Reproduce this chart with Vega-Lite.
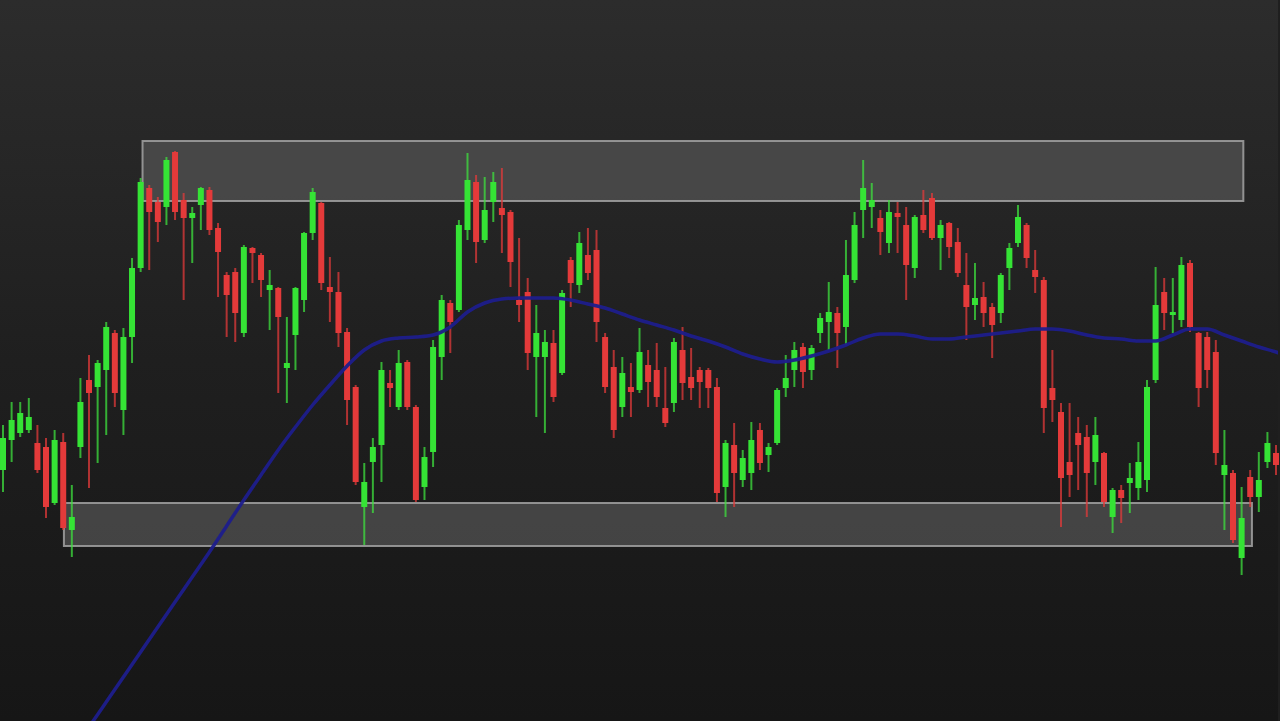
{
  "$schema": "https://vega.github.io/schema/vega-lite/v6.json",
  "width": 1280,
  "height": 721,
  "padding": 0,
  "autosize": {"type": "fit", "contains": "padding"},
  "background": "#1f1f1f",
  "view": {
    "stroke": null,
    "fill": {"gradient": "linear", "x1": 0, "y1": 0, "x2": 0, "y2": 1, "stops": [{"offset": 0, "color": "#2c2c2c"}, {"offset": 0.5, "color": "#1f1f1f"}, {"offset": 1, "color": "#161616"}]}
  },
  "datasets": {
    "candles": [
      {"t":0,"o":330,"c":362,"h":375,"l":308},
      {"t":1,"o":360,"c":380,"h":398,"l":338},
      {"t":2,"o":367,"c":387,"h":398,"l":363},
      {"t":3,"o":370,"c":383,"h":402,"l":367},
      {"t":4,"o":357,"c":330,"h":375,"l":327},
      {"t":5,"o":353,"c":293,"h":362,"l":282},
      {"t":6,"o":297,"c":360,"h":370,"l":295},
      {"t":7,"o":358,"c":272,"h":367,"l":270},
      {"t":8,"o":270,"c":283,"h":315,"l":243},
      {"t":9,"o":353,"c":398,"h":422,"l":342},
      {"t":10,"o":420,"c":407,"h":445,"l":312},
      {"t":11,"o":413,"c":437,"h":440,"l":337},
      {"t":12,"o":430,"c":473,"h":478,"l":365},
      {"t":13,"o":467,"c":407,"h":470,"l":393},
      {"t":14,"o":390,"c":463,"h":472,"l":365},
      {"t":15,"o":463,"c":532,"h":542,"l":437},
      {"t":16,"o":532,"c":618,"h":622,"l":528},
      {"t":17,"o":612,"c":588,"h":615,"l":530},
      {"t":18,"o":598,"c":578,"h":603,"l":558},
      {"t":19,"o":593,"c":640,"h":643,"l":575},
      {"t":20,"o":648,"c":588,"h":649,"l":580},
      {"t":21,"o":600,"c":582,"h":607,"l":500},
      {"t":22,"o":582,"c":587,"h":593,"l":537},
      {"t":23,"o":595,"c":612,"h":613,"l":570},
      {"t":24,"o":610,"c":570,"h":613,"l":565},
      {"t":25,"o":572,"c":548,"h":577,"l":503},
      {"t":26,"o":525,"c":505,"h":528,"l":463},
      {"t":27,"o":528,"c":487,"h":532,"l":458},
      {"t":28,"o":467,"c":553,"h":555,"l":463},
      {"t":29,"o":552,"c":547,"h":553,"l":517},
      {"t":30,"o":545,"c":520,"h":547,"l":503},
      {"t":31,"o":510,"c":515,"h":530,"l":470},
      {"t":32,"o":512,"c":483,"h":513,"l":407},
      {"t":33,"o":432,"c":437,"h":483,"l":397},
      {"t":34,"o":465,"c":512,"h":513,"l":430},
      {"t":35,"o":500,"c":567,"h":568,"l":488},
      {"t":36,"o":567,"c":608,"h":612,"l":560},
      {"t":37,"o":597,"c":517,"h":598,"l":510},
      {"t":38,"o":513,"c":508,"h":543,"l":478},
      {"t":39,"o":508,"c":467,"h":528,"l":453},
      {"t":40,"o":468,"c":400,"h":472,"l":375},
      {"t":41,"o":413,"c":318,"h":415,"l":315},
      {"t":42,"o":293,"c":318,"h":337,"l":255},
      {"t":43,"o":338,"c":353,"h":362,"l":287},
      {"t":44,"o":355,"c":430,"h":438,"l":318},
      {"t":45,"o":417,"c":412,"h":430,"l":393},
      {"t":46,"o":393,"c":437,"h":450,"l":390},
      {"t":47,"o":438,"c":393,"h":440,"l":390},
      {"t":48,"o":393,"c":300,"h":395,"l":298},
      {"t":49,"o":313,"c":343,"h":353,"l":300},
      {"t":50,"o":348,"c":453,"h":460,"l":333},
      {"t":51,"o":443,"c":500,"h":505,"l":420},
      {"t":52,"o":497,"c":478,"h":500,"l":447},
      {"t":53,"o":490,"c":575,"h":580,"l":488},
      {"t":54,"o":570,"c":620,"h":647,"l":560},
      {"t":55,"o":618,"c":558,"h":625,"l":537},
      {"t":56,"o":560,"c":590,"h":623,"l":557},
      {"t":57,"o":598,"c":618,"h":628,"l":578},
      {"t":58,"o":592,"c":585,"h":632,"l":547},
      {"t":59,"o":588,"c":538,"h":590,"l":513},
      {"t":60,"o":500,"c":495,"h":562,"l":478},
      {"t":61,"o":508,"c":447,"h":522,"l":430},
      {"t":62,"o":443,"c":467,"h":495,"l":383},
      {"t":63,"o":443,"c":458,"h":470,"l":367},
      {"t":64,"o":457,"c":403,"h":470,"l":398},
      {"t":65,"o":427,"c":507,"h":510,"l":425},
      {"t":66,"o":540,"c":517,"h":543,"l":493},
      {"t":67,"o":515,"c":557,"h":568,"l":507},
      {"t":68,"o":545,"c":527,"h":572,"l":520},
      {"t":69,"o":550,"c":478,"h":570,"l":458},
      {"t":70,"o":463,"c":413,"h":467,"l":407},
      {"t":71,"o":433,"c":370,"h":450,"l":362},
      {"t":72,"o":393,"c":427,"h":443,"l":383},
      {"t":73,"o":413,"c":408,"h":437,"l":383},
      {"t":74,"o":410,"c":448,"h":472,"l":407},
      {"t":75,"o":435,"c":418,"h":450,"l":393},
      {"t":76,"o":430,"c":403,"h":457,"l":393},
      {"t":77,"o":392,"c":377,"h":433,"l":373},
      {"t":78,"o":397,"c":458,"h":462,"l":388},
      {"t":79,"o":450,"c":417,"h":473,"l":400},
      {"t":80,"o":423,"c":412,"h":452,"l":400},
      {"t":81,"o":430,"c":418,"h":433,"l":392},
      {"t":82,"o":430,"c":412,"h":432,"l":392},
      {"t":83,"o":413,"c":307,"h":422,"l":298},
      {"t":84,"o":313,"c":357,"h":360,"l":283},
      {"t":85,"o":355,"c":327,"h":377,"l":293},
      {"t":86,"o":320,"c":342,"h":350,"l":313},
      {"t":87,"o":327,"c":360,"h":378,"l":310},
      {"t":88,"o":370,"c":337,"h":377,"l":330},
      {"t":89,"o":345,"c":353,"h":357,"l":328},
      {"t":90,"o":357,"c":410,"h":412,"l":355},
      {"t":91,"o":412,"c":422,"h":445,"l":403},
      {"t":92,"o":430,"c":450,"h":458,"l":413},
      {"t":93,"o":453,"c":428,"h":457,"l":412},
      {"t":94,"o":430,"c":452,"h":455,"l":420},
      {"t":95,"o":467,"c":482,"h":487,"l":457},
      {"t":96,"o":478,"c":488,"h":518,"l":450},
      {"t":97,"o":487,"c":467,"h":493,"l":432},
      {"t":98,"o":473,"c":525,"h":560,"l":455},
      {"t":99,"o":520,"c":575,"h":588,"l":517},
      {"t":100,"o":590,"c":612,"h":640,"l":562},
      {"t":101,"o":593,"c":600,"h":617,"l":572},
      {"t":102,"o":582,"c":568,"h":590,"l":545},
      {"t":103,"o":557,"c":588,"h":600,"l":547},
      {"t":104,"o":587,"c":583,"h":598,"l":547},
      {"t":105,"o":575,"c":535,"h":593,"l":500},
      {"t":106,"o":532,"c":583,"h":585,"l":522},
      {"t":107,"o":585,"c":570,"h":610,"l":567},
      {"t":108,"o":602,"c":562,"h":607,"l":560},
      {"t":109,"o":562,"c":575,"h":580,"l":530},
      {"t":110,"o":577,"c":553,"h":578,"l":542},
      {"t":111,"o":558,"c":527,"h":572,"l":523},
      {"t":112,"o":515,"c":493,"h":547,"l":460},
      {"t":113,"o":495,"c":502,"h":537,"l":480},
      {"t":114,"o":503,"c":487,"h":518,"l":473},
      {"t":115,"o":493,"c":475,"h":497,"l":442},
      {"t":116,"o":487,"c":525,"h":527,"l":477},
      {"t":117,"o":532,"c":552,"h":557,"l":510},
      {"t":118,"o":557,"c":583,"h":595,"l":553},
      {"t":119,"o":575,"c":542,"h":577,"l":532},
      {"t":120,"o":530,"c":523,"h":550,"l":507},
      {"t":121,"o":520,"c":392,"h":523,"l":367},
      {"t":122,"o":412,"c":400,"h":450,"l":378},
      {"t":123,"o":388,"c":322,"h":397,"l":273},
      {"t":124,"o":338,"c":325,"h":397,"l":303},
      {"t":125,"o":367,"c":355,"h":383,"l":310},
      {"t":126,"o":363,"c":327,"h":375,"l":283},
      {"t":127,"o":338,"c":365,"h":383,"l":315},
      {"t":128,"o":347,"c":298,"h":348,"l":293},
      {"t":129,"o":283,"c":310,"h":312,"l":267},
      {"t":130,"o":310,"c":302,"h":315,"l":277},
      {"t":131,"o":317,"c":322,"h":337,"l":287},
      {"t":132,"o":312,"c":338,"h":358,"l":300},
      {"t":133,"o":320,"c":413,"h":420,"l":308},
      {"t":134,"o":420,"c":495,"h":533,"l":417},
      {"t":135,"o":508,"c":487,"h":522,"l":470},
      {"t":136,"o":485,"c":488,"h":522,"l":467},
      {"t":137,"o":480,"c":535,"h":543,"l":473},
      {"t":138,"o":537,"c":473,"h":540,"l":468},
      {"t":139,"o":467,"c":412,"h":468,"l":393},
      {"t":140,"o":463,"c":430,"h":468,"l":412},
      {"t":141,"o":448,"c":347,"h":460,"l":335},
      {"t":142,"o":325,"c":335,"h":370,"l":270},
      {"t":143,"o":327,"c":260,"h":330,"l":257},
      {"t":144,"o":242,"c":282,"h":313,"l":225},
      {"t":145,"o":323,"c":303,"h":330,"l":293},
      {"t":146,"o":303,"c":320,"h":348,"l":288},
      {"t":147,"o":338,"c":357,"h":368,"l":332},
      {"t":148,"o":347,"c":335,"h":355,"l":325}
    ],
    "ma": [
      {"t":10,"v":73},{"t":12,"v":98},{"t":14,"v":123},{"t":16,"v":148},{"t":18,"v":173},
      {"t":20,"v":198},{"t":22,"v":223},{"t":24,"v":248},{"t":26,"v":274},{"t":28,"v":300},
      {"t":30,"v":325},{"t":32,"v":350},{"t":34,"v":373},{"t":36,"v":395},{"t":38,"v":415},
      {"t":40,"v":434},{"t":42,"v":450},{"t":44,"v":459},{"t":46,"v":462},{"t":48,"v":463},
      {"t":50,"v":465},{"t":52,"v":473},{"t":54,"v":488},{"t":56,"v":497},{"t":58,"v":501},
      {"t":60,"v":502},{"t":62,"v":502},{"t":64,"v":502},{"t":66,"v":500},{"t":68,"v":496},
      {"t":70,"v":492},{"t":72,"v":486},{"t":74,"v":480},{"t":76,"v":475},{"t":78,"v":470},
      {"t":80,"v":464},{"t":82,"v":459},{"t":84,"v":453},{"t":86,"v":446},{"t":88,"v":441},
      {"t":90,"v":438},{"t":92,"v":440},{"t":94,"v":444},{"t":96,"v":449},{"t":98,"v":455},
      {"t":100,"v":462},{"t":102,"v":466},{"t":104,"v":466},{"t":106,"v":464},{"t":108,"v":461},
      {"t":110,"v":461},{"t":112,"v":463},{"t":114,"v":465},{"t":116,"v":467},{"t":118,"v":469},
      {"t":120,"v":471},{"t":122,"v":471},{"t":124,"v":469},{"t":126,"v":465},{"t":128,"v":462},
      {"t":130,"v":461},{"t":132,"v":459},{"t":134,"v":459},{"t":136,"v":465},{"t":138,"v":471},
      {"t":140,"v":471},{"t":142,"v":465},{"t":144,"v":459},{"t":146,"v":453},{"t":148,"v":448},
      {"t":149,"v":445}
    ],
    "zones": [
      {"t0":16.22,"t1":144.2,"lo":599,"hi":659},
      {"t0":7.08,"t1":145.2,"lo":254,"hi":297}
    ]
  },
  "layer": [
    {
      "data": {"name": "zones"},
      "mark": {"type": "rect", "fill": "#555555", "fillOpacity": 0.7, "stroke": "#9c9c9c", "strokeWidth": 2, "strokeOpacity": 0.9},
      "encoding": {
        "x": {"field": "t0", "type": "quantitative", "scale": {"domain": [-0.35, 148.23], "nice": false, "zero": false, "padding": 0}, "axis": null},
        "x2": {"field": "t1"},
        "y": {"field": "lo", "type": "quantitative", "scale": {"domain": [79, 800], "nice": false, "zero": false, "padding": 0}, "axis": null},
        "y2": {"field": "hi"}
      }
    },
    {
      "data": {"name": "candles"},
      "mark": {"type": "rule", "strokeWidth": 2, "opacity": 0.75},
      "encoding": {
        "x": {"field": "t", "type": "quantitative"},
        "y": {"field": "l", "type": "quantitative"},
        "y2": {"field": "h"},
        "color": {"condition": {"test": "datum.c >= datum.o", "value": "#3ee03e"}, "value": "#e23a3a"}
      }
    },
    {
      "data": {"name": "candles"},
      "mark": {"type": "bar", "size": 6},
      "encoding": {
        "x": {"field": "t", "type": "quantitative"},
        "y": {"field": "o", "type": "quantitative"},
        "y2": {"field": "c"},
        "color": {"condition": {"test": "datum.c >= datum.o", "value": "#35e335"}, "value": "#e43a3a"}
      }
    },
    {
      "data": {"name": "ma"},
      "mark": {"type": "line", "color": "#1e1e8c", "strokeWidth": 3.5, "interpolate": "monotone", "clip": true, "opacity": 0.95},
      "encoding": {
        "x": {"field": "t", "type": "quantitative"},
        "y": {"field": "v", "type": "quantitative"}
      }
    }
  ]
}
